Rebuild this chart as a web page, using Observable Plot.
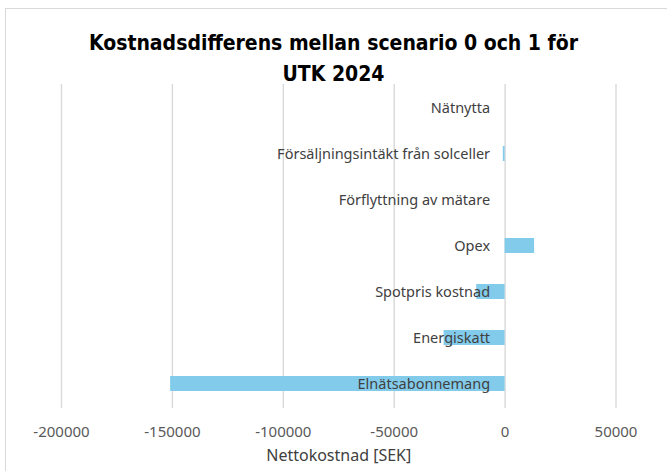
<!DOCTYPE html>
<html>
<head>
<meta charset="utf-8">
<script src="https://cdn.jsdelivr.net/npm/d3@7"></script>
<script src="https://cdn.jsdelivr.net/npm/@observablehq/plot@0.6"></script>
<style>
  html, body { margin: 0; padding: 0; background: #fff; }
  body { width: 667px; height: 471px; overflow: hidden; position: relative; }
  #frame { position: absolute; left: 5px; top: 8px; width: 700px; height: 500px;
           border-left: 1px solid #d9d9d9; border-top: 1px solid #d9d9d9; }
  #title { position: absolute; left: 0; top: 28px; width: 667px; text-align: center;
           font-family: "Liberation Sans Narrow", "DejaVu Sans Condensed", sans-serif;
           font-stretch: condensed; font-weight: bold; font-size: 21px; line-height: 31px; color: #000; }
  #chart { position: absolute; left: 0; top: 80px; }
</style>
</head>
<body>
<div id="frame"></div>
<div id="title">Kostnadsdifferens mellan scenario 0 och 1 för<br>UTK 2024</div>
<div id="chart"></div>
<script>
const categories = [
  "Nätnytta",
  "Försäljningsintäkt från solceller",
  "Förflyttning av mätare",
  "Opex",
  "Spotpris kostnad",
  "Energiskatt",
  "Elnätsabonnemang"
];
const values = [0, -800, 0, 13300, -12800, -27500, -150800];
const xTicks = [-200000, -150000, -100000, -50000, 0, 50000];
const xLabel = "Nettokostnad [SEK]";

const data = categories.map((c, i) => ({category: c, value: values[i]}));
const font = "Noto Sans, sans-serif";

const chart = Plot.plot({
  width: 667,
  height: 391,
  marginTop: 4,
  marginBottom: 63,
  marginLeft: 61,
  marginRight: 51.5,
  style: {fontFamily: font, background: "transparent", overflow: "visible"},
  x: {domain: [-200000, 50000], ticks: xTicks, tickFormat: d => String(d)},
  y: {domain: categories, paddingInner: 0.67, paddingOuter: 0.335, axis: null},
  marks: [
    Plot.gridX(xTicks, {stroke: "#d9d9d9", strokeOpacity: 1, strokeWidth: 1.4}),
    Plot.barX(data, {x: "value", y: "category", fill: "#83cbeb"}),
    Plot.text(data, {x: () => 0, y: "category", text: "category", textAnchor: "end", dx: -15,
      fill: "#404040", fontSize: 14.5}),
    Plot.axisX({ticks: xTicks, tickFormat: d => String(d), tickSize: 0, tickPadding: 18,
      label: null, fontSize: 15, color: "#595959"}),
    Plot.text([xLabel], {frameAnchor: "bottom", dy: 52, fill: "#404040", fontSize: 16})
  ]
});
document.getElementById("chart").appendChild(chart);
</script>
</body>
</html>
